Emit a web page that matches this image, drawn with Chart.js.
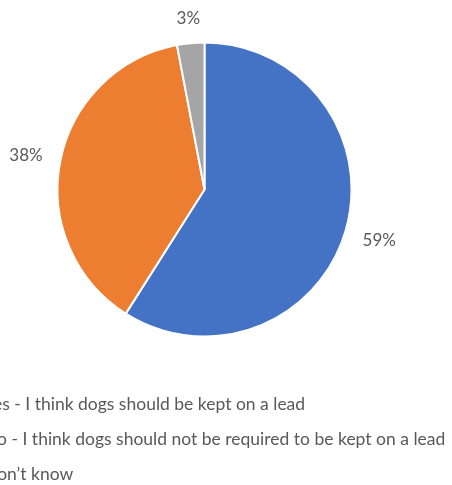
<!DOCTYPE html>
<html>
<head>
<meta charset="utf-8">
<script src="https://cdn.jsdelivr.net/npm/chart.js@4"></script>
<style>
  html, body { margin: 0; padding: 0; background: #fff; overflow: hidden; }
  #wrap { width: 452px; height: 485px; overflow: hidden; position: relative; }
  #chart { position: absolute; left: -48px; top: 0; }
</style>
</head>
<body>
<div id="wrap"><canvas id="chart" width="500" height="485"></canvas></div>
<script>
const labels = [
  "Yes - I think dogs should be kept on a lead",
  "No - I think dogs should not be required to be kept on a lead",
  "Don\u2019t know"
];
const values = [59, 38, 3];
const colors = ["#4472C4", "#ED7D31", "#A5A5A5"];

const FONT = "Lato, 'Open Sans', sans-serif";
const TEXT = "#595959";

// percent labels outside each slice
const outsideLabels = {
  id: "outsideLabels",
  afterDatasetsDraw(chart) {
    const ctx = chart.ctx;
    const total = values.reduce((a, b) => a + b, 0);
    const meta = chart.getDatasetMeta(0);
    ctx.save();
    ctx.font = "17px " + FONT;
    ctx.fillStyle = TEXT;
    ctx.textAlign = "center";
    ctx.textBaseline = "middle";
    meta.data.forEach((arc, i) => {
      const p = arc.getProps(["x", "y", "startAngle", "endAngle", "outerRadius"], true);
      const mid = (p.startAngle + p.endAngle) / 2;
      const txt = Math.round(values[i] / total * 100) + "%";
      const hw = ctx.measureText(txt).width / 2;
      const hh = 7;
      const c = Math.cos(mid), s = Math.sin(mid);
      const d = p.outerRadius + 17 + hw * Math.abs(c) + hh * Math.abs(s);
      ctx.fillText(txt, p.x + c * d, p.y + s * d);
    });
    ctx.restore();
  }
};

// legend rows under the pie
const listLegend = {
  id: "listLegend",
  afterDraw(chart) {
    const ctx = chart.ctx;
    ctx.save();
    ctx.font = "17.5px " + FONT;
    ctx.textBaseline = "middle";
    labels.forEach((l, i) => {
      const y = 404 + i * 35;
      ctx.fillStyle = colors[i];
      ctx.fillRect(16, y - 4, 8, 8);
      ctx.fillStyle = TEXT;
      ctx.fillText(l, 32, y);
    });
    ctx.restore();
  }
};

new Chart(document.getElementById("chart"), {
  type: "pie",
  data: {
    labels,
    datasets: [{
      data: values,
      backgroundColor: colors,
      borderColor: "#ffffff",
      borderWidth: 2
    }]
  },
  options: {
    responsive: false,
    animation: false,
    radius: 147,
    layout: { padding: { left: 105, right: 100, top: 42, bottom: 148 } },
    plugins: {
      legend: { display: false },
      tooltip: { enabled: false }
    }
  },
  plugins: [outsideLabels, listLegend]
});
</script>
</body>
</html>
